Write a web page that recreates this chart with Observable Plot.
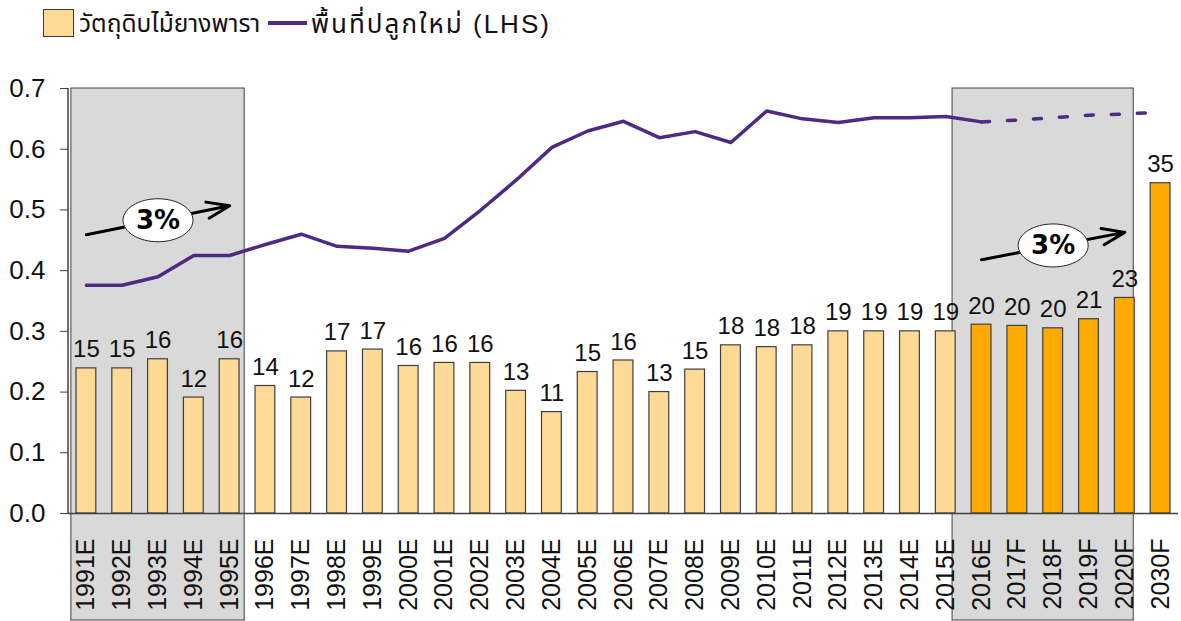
<!DOCTYPE html>
<html>
<head>
<meta charset="utf-8">
<script src="https://cdn.jsdelivr.net/npm/d3@7"></script>
<script src="https://cdn.jsdelivr.net/npm/@observablehq/plot@0.6"></script>
<style>
  html, body { margin: 0; padding: 0; background: #fff; }
  body { width: 1181px; height: 621px; overflow: hidden; font-family: Tahoma, "Liberation Sans", "Noto Sans Thai", "Noto Sans", sans-serif; color: #111; }
  #legend { position: relative; height: 50px; }
  #legend .sw { position: absolute; left: 43px; top: 9px; width: 29px; height: 26px; background: #FFDA96; border: 1px solid #3a3a3a; }
  #legend .t1 { position: absolute; left: 79px; top: 6px; white-space: nowrap; font-size: 24.5px; }
  #legend .ln { position: absolute; left: 268px; top: 21px; width: 39px; height: 4px; background: #4E2A84; }
  #legend .t2 { position: absolute; left: 311px; top: 5px; white-space: nowrap; font-size: 26px; letter-spacing: 2px; }
  #chart svg { display: block; }
</style>
</head>
<body>
<div id="legend"><span class="sw"></span><span class="t1" id="s1"></span><span class="ln"></span><span class="t2" id="s2"></span></div>
<div id="chart"></div>
<script>
// ---- data ----
const seriesBarName = "วัตถุดิบไม้ยางพารา";
const seriesLineName = "พื้นที่ปลูกใหม่ (LHS)";
const years = ["1991E","1992E","1993E","1994E","1995E","1996E","1997E","1998E","1999E","2000E",
               "2001E","2002E","2003E","2004E","2005E","2006E","2007E","2008E","2009E","2010E",
               "2011E","2012E","2013E","2014E","2015E","2016E","2017F","2018F","2019F","2020F","2030F"];
const barValues = [0.239,0.239,0.254,0.191,0.254,0.210,0.191,0.267,0.270,0.243,
                   0.248,0.248,0.202,0.167,0.233,0.252,0.200,0.237,0.277,0.274,
                   0.277,0.300,0.300,0.300,0.300,0.311,0.309,0.305,0.320,0.355,0.544];
const barLabels = [15,15,16,12,16,14,12,17,17,16,16,16,13,11,15,16,13,15,18,18,18,19,19,19,19,20,20,20,21,23,35];
const highlightYears = ["2016E","2017F","2018F","2019F","2020F","2030F"];
const lineValues = [0.376,0.376,0.390,0.425,0.425,0.443,0.460,0.440,0.437,0.432,
                    0.453,0.499,0.549,0.603,0.630,0.646,0.619,0.629,0.611,0.663,
                    0.650,0.644,0.652,0.652,0.654,0.645,0.648,0.652,0.656,0.658,0.661];
const dashedFrom = "2016E";
const yTicks = [0,0.1,0.2,0.3,0.4,0.5,0.6,0.7];
const shadedPeriods = [
  {from: "1991E", to: "1995E", padL: 0.42, padR: 0.42},
  {from: "2016E", to: "2020F", padL: 0.81, padR: 0.25}
];
const trendArrows = [
  {from: "1991E", y1: 0.459, to: "1995E", y2: 0.507, at: "1993E", y: 0.483, text: "3%"},
  {from: "2016E", y1: 0.418, to: "2020F", y2: 0.463, at: "2018F", y: 0.4415, text: "3%"}
];

document.getElementById("s1").textContent = seriesBarName;
document.getElementById("s2").textContent = seriesLineName;

// ---- tables ----
const bars = years.map((year, i) => ({year, value: barValues[i], label: barLabels[i],
  fill: highlightYears.includes(year) ? "#FFAA00" : "#FFDA96"}));
const line = years.map((year, i) => ({year, value: lineValues[i]}));
const cut = years.indexOf(dashedFrom);
const lineSolid = line.slice(0, cut + 1);
const lineDashed = line.slice(cut);

const FONT = '"Liberation Sans", Arial, sans-serif';

// shaded boxes drawn from the x/y scales
function shadeMark(index, scales, values, dims) {
  const X = scales.x, Y = scales.y;
  const step = X(years[1]) - X(years[0]);
  const c = (k) => X(k) + step / 2;
  const g = d3.create("svg:g");
  for (const p of shadedPeriods) {
    const x1 = c(p.from) - p.padL * step;
    const x2 = c(p.to) + p.padR * step;
    const yTop = Y(0.7);
    g.append("rect").attr("x", x1).attr("y", yTop).attr("width", x2 - x1)
      .attr("height", dims.height - 1 - yTop)
      .attr("fill", "#D9D9D9").attr("stroke", "#404040").attr("stroke-width", 1);
  }
  return g.node();
}
function yAxisLine(index, scales, values, dims) {
  const Y = scales.y;
  return d3.create("svg:line").attr("x1", dims.marginLeft).attr("x2", dims.marginLeft)
    .attr("y1", Y(0.7)).attr("y2", Y(0)).attr("stroke", "#404040").attr("stroke-width", 1.5).node();
}

const ellipseSymbol = {
  draw(ctx) {
    const rx = 35, ry = 21.5, k = 0.5523;
    ctx.moveTo(rx, 0);
    ctx.bezierCurveTo(rx, ry * k, rx * k, ry, 0, ry);
    ctx.bezierCurveTo(-rx * k, ry, -rx, ry * k, -rx, 0);
    ctx.bezierCurveTo(-rx, -ry * k, -rx * k, -ry, 0, -ry);
    ctx.bezierCurveTo(rx * k, -ry, rx, -ry * k, rx, 0);
    ctx.closePath();
  }
};

const chart = Plot.plot({
  width: 1181,
  height: 571,
  marginTop: 38,
  marginBottom: 108,
  marginLeft: 68,
  marginRight: 3,
  style: {fontFamily: FONT, fontSize: "24px", color: "#111", background: "#fff", overflow: "visible"},
  x: {type: "band", domain: years, padding: 0, round: false},
  y: {domain: [0, 0.7]},
  color: {type: "identity"},
  marks: [
    shadeMark,
    Plot.barY(bars, {x: "year", y: "value", fill: "fill", stroke: "#3f3f3f", strokeWidth: 1.2, insetLeft: 8, insetRight: 8}),
    Plot.ruleY([0], {stroke: "#404040", strokeWidth: 1.5}),
    yAxisLine,
    Plot.axisY({ticks: yTicks, tickFormat: d3.format(".1f"), tickSize: 8, tickPadding: 15, fontSize: 26, label: null, stroke: "#404040"}),
    Plot.axisX({tickRotate: -90, tickSize: 0, tickPadding: 25, fontSize: 25, label: null}),
    Plot.lineY(lineSolid, {x: "year", y: "value", stroke: "#4E2A84", strokeWidth: 3.5}),
    Plot.lineY(lineDashed, {x: "year", y: "value", stroke: "#4E2A84", strokeWidth: 3.5, strokeDasharray: "8,18"}),
    Plot.text(bars, {x: "year", y: "value", text: "label", dy: -11, lineAnchor: "bottom", fontSize: 24, fill: "#111"}),
    Plot.arrow(trendArrows, {x1: "from", y1: "y1", x2: "to", y2: "y2", stroke: "#000", strokeWidth: 3, headLength: 12, headAngle: 40}),
    Plot.dot(trendArrows, {x: "at", y: "y", symbol: ellipseSymbol, r: 1, fill: "#fff", stroke: "#222", strokeWidth: 1}),
    Plot.text(trendArrows, {x: "at", y: "y", text: "text", fontSize: 26, fontWeight: "bold", fontFamily: '"DejaVu Sans", sans-serif', fill: "#000"})
  ]
});
document.getElementById("chart").appendChild(chart);
</script>
</body>
</html>
